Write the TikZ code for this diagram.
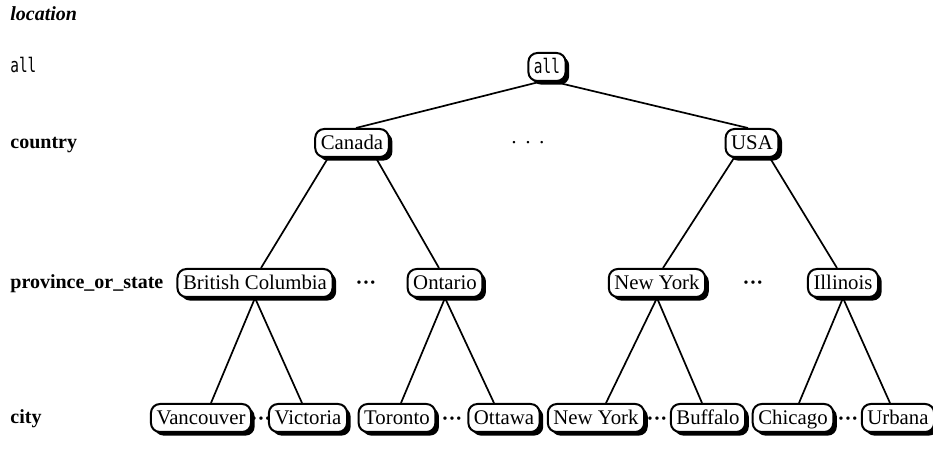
\documentclass[tikz,border=0pt]{standalone}
\usepackage{fontspec}
\setmainfont{Liberation Serif}
\newfontfamily\locmono[FakeStretch=0.72]{DejaVu Sans Mono}
\usepackage{tikz}
\usetikzlibrary{positioning,shadows,backgrounds}
\tikzset{
  locbox/.style={draw=black, fill=white, line width=1pt, rounded corners=4.5pt,
                 inner xsep=2.8pt, inner ysep=3.3pt,
                 text height=6.9pt, text depth=0.5pt,
                 font=\fontsize{10.4}{12}\selectfont,
                 drop shadow={shadow xshift=1.8pt, shadow yshift=-1.8pt, fill=black, opacity=1}},
  loclabel/.style={anchor=west, inner sep=0pt, text height=7pt, text depth=2.4pt,
                   font=\fontsize{10}{12}\selectfont\bfseries},
  locdots/.style={inner sep=0pt, font=\fontsize{10.4}{12}\selectfont\bfseries},
  locline/.style={line width=0.85pt, draw=black},
}

\begin{document}
\begin{tikzpicture}[x=0.5pt, y=-0.5pt]
  \useasboundingbox (0,0) rectangle (933,470);
  % level names on the left
  \node[loclabel, font=\fontsize{10}{12}\selectfont\bfseries\itshape] (lloc) at (10,16) {location};
  \node[loclabel, font=\fontsize{10}{12}\selectfont\locmono] (lall) at (10,68) {all};
  \node[loclabel] (lcountry) at (10,144) {country};
  \node[loclabel] (lprov) at (10,284) {province\_or\_state};
  \node[loclabel] (lcity) at (10,419) {city};
  % hierarchy
  \node[locbox, font=\fontsize{10}{12}\selectfont\locmono] (all) at (547,67) {all};
  \node[locbox] (canada) at (352,143) {Canada};
  \node[locbox] (usa) at (752,143) {USA};
  \node[locdots, font=\fontsize{10.4}{12}\selectfont] (d0) at (528,145) {·\,\,·\,\,·};
  \node[locbox] (bc) at (255,283) {British Columbia};
  \node[locbox] (ont) at (445,283) {Ontario};
  \node[locbox] (nys) at (657,283) {New York};
  \node[locbox] (ill) at (843,283) {Illinois};
  \node[locdots] (d1) at (366,285) {···};
  \node[locdots] (d2) at (753,285) {···};
  \node[locbox] (van) at (201,418) {Vancouver};
  \node[locbox] (vic) at (308,418) {Victoria};
  \node[locbox] (tor) at (397,418) {Toronto};
  \node[locbox] (ott) at (504,418) {Ottawa};
  \node[locbox] (nyc) at (596,418) {New York};
  \node[locbox] (buf) at (708,418) {Buffalo};
  \node[locbox] (chi) at (793,418) {Chicago};
  \node[locbox] (urb) at (898,418) {Urbana};
  \node[locdots] (d3) at (261,421) {···};
  \node[locdots] (d4) at (452,421) {···};
  \node[locdots] (d5) at (657,421) {···};
  \node[locdots] (d6) at (848,421) {···};
  % connectors behind the boxes
  \begin{scope}[on background layer]
    \draw[locline] ([xshift=-4pt]all.south) -- ([xshift=2pt]canada.north);
    \draw[locline] ([xshift=4pt]all.south) -- ([xshift=-2pt]usa.north);
    \draw[locline] ([xshift=-12pt]canada.south) -- ([xshift=3pt]bc.north);
    \draw[locline] ([xshift=12pt]canada.south) -- ([xshift=-3pt]ont.north);
    \draw[locline] ([xshift=-9pt]usa.south) -- ([xshift=3pt]nys.north);
    \draw[locline] ([xshift=9pt]usa.south) -- ([xshift=-3pt]ill.north);
    \draw[locline] (bc.south) -- ([xshift=5pt]van.north);
    \draw[locline] (bc.south) -- ([xshift=-3pt]vic.north);
    \draw[locline] (ont.south) -- ([xshift=2pt]tor.north);
    \draw[locline] (ont.south) -- ([xshift=-5pt]ott.north);
    \draw[locline] (nys.south) -- ([xshift=5pt]nyc.north);
    \draw[locline] (nys.south) -- ([xshift=-3pt]buf.north);
    \draw[locline] (ill.south) -- ([xshift=3pt]chi.north);
    \draw[locline] (ill.south) -- ([xshift=-4pt]urb.north);
  \end{scope}
\end{tikzpicture}
\end{document}
